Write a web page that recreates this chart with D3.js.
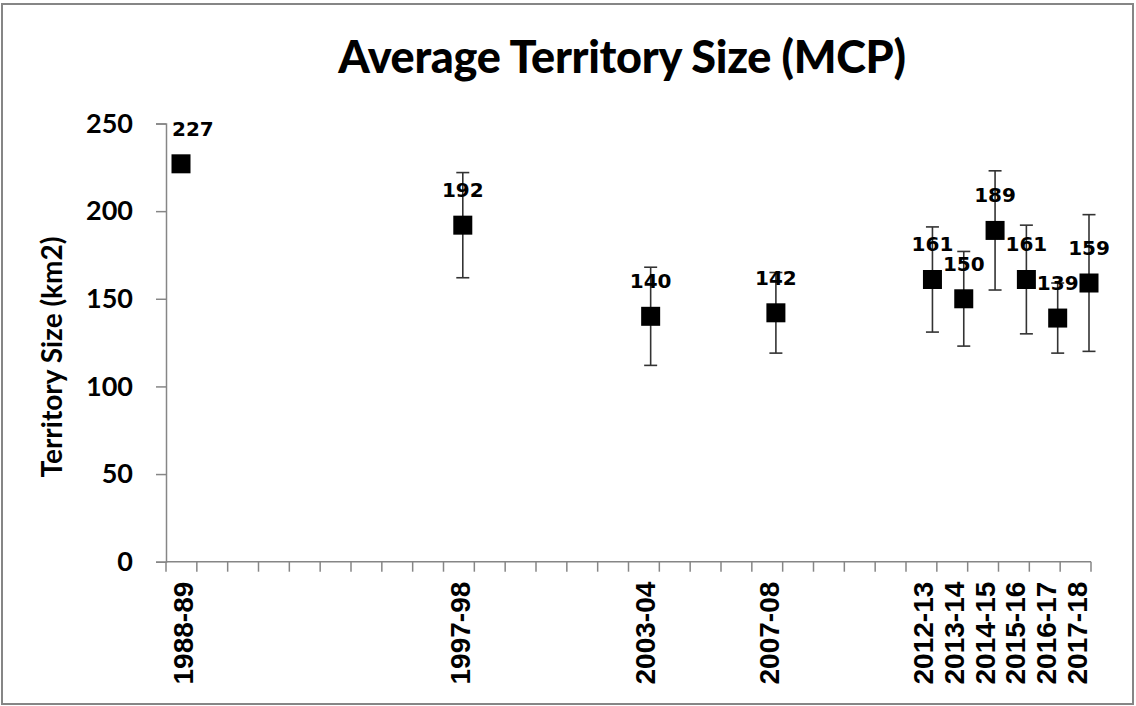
<!DOCTYPE html>
<html><head><meta charset="utf-8">
<script src="https://cdn.jsdelivr.net/npm/d3@7"></script>
<style>body{margin:0;background:#fff}svg{display:block}</style>
</head><body>
<svg id="c" width="1136" height="706"></svg>
<script>
// categories: every season on the axis (1988-89 .. 2017-18)
const seasons = d3.range(1988, 2018).map(y => y + "-" + String((y + 1) % 100).padStart(2, "0"));
const labelledSeasons = ["1988-89","1997-98","2003-04","2007-08","2012-13","2013-14","2014-15","2015-16","2016-17","2017-18"];
const means = [227, 192, 140, 142, 161, 150, 189, 161, 139, 159];
const errors = [null, 30, 28, 23, 30, 27, 34, 31, 20, 39];
const yTicks = [0, 50, 100, 150, 200, 250];
const title = "Average Territory Size (MCP)";
const yTitle = "Territory Size (km2)";

const svg = d3.select("#c");
const axisColor = "#868686";

// outer border
svg.append("rect").attr("x", 2).attr("y", 4).attr("width", 1131).attr("height", 700)
  .attr("fill", "none").attr("stroke", axisColor).attr("stroke-width", 2);

const plotLeft = 166, plotRight = 1091, plotTop = 123.5, plotBottom = 561.7;
const xBand = d3.scaleBand().domain(seasons).range([plotLeft, plotRight]);
const xMark = d3.scaleLinear().domain([0, seasons.length - 1]).range([181, 1089]);
const y = d3.scaleLinear().domain([0, 250]).range([plotBottom, plotTop]);

// title
svg.append("text").attr("x", 622).attr("y", 73).attr("text-anchor", "middle")
  .attr("font-family", "Lato").attr("font-weight", "900").attr("font-size", 45)
  .attr("letter-spacing", -0.3)
  .attr("fill", "#000").text(title);

// y axis
const yAxis = svg.append("g").attr("transform", `translate(${plotLeft},0)`)
  .call(d3.axisLeft(y).tickValues(yTicks).tickSize(10).tickPadding(23).tickFormat(d3.format("d")));
yAxis.select(".domain").attr("stroke", axisColor).attr("stroke-width", 1.5);
yAxis.selectAll(".tick line").attr("stroke", axisColor).attr("stroke-width", 1.5);
yAxis.selectAll(".tick text").attr("font-family", "Lato").attr("font-weight", "bold")
  .attr("font-size", 27).attr("fill", "#000");

// y title
svg.append("text").attr("transform", "translate(62,357) rotate(-90)").attr("text-anchor", "middle")
  .attr("font-family", "Lato").attr("font-weight", "bold").attr("font-size", 28)
  .attr("fill", "#000").text(yTitle);

// x axis
const xg = svg.append("g");
xg.append("line").attr("x1", plotLeft).attr("x2", plotRight).attr("y1", plotBottom).attr("y2", plotBottom)
  .attr("stroke", axisColor).attr("stroke-width", 1.5);
const boundaries = seasons.map(s => xBand(s)).concat([xBand(seasons[seasons.length - 1]) + xBand.bandwidth()]);
xg.selectAll("line.tk").data(boundaries).join("line").attr("class", "tk")
  .attr("x1", d => d).attr("x2", d => d).attr("y1", plotBottom).attr("y2", plotBottom + 10)
  .attr("stroke", axisColor).attr("stroke-width", 1.5);
xg.selectAll("text.xl").data(labelledSeasons).join("text").attr("class", "xl")
  .attr("transform", d => `translate(${xBand(d) + xBand.bandwidth() / 2 + 2},${plotBottom + 20}) rotate(-90)`)
  .attr("text-anchor", "end").attr("dominant-baseline", "central")
  .attr("font-family", "Liberation Sans").attr("font-weight", "bold").attr("font-size", 28)
  .attr("fill", "#000").text(d => d);

// data
const pts = labelledSeasons.map((s, i) => ({ s, v: means[i], e: errors[i], x: xMark(seasons.indexOf(s)) }));

// error bars
const eb = svg.append("g").attr("stroke", "#333").attr("stroke-width", 1.6);
pts.filter(d => d.e != null).forEach(d => {
  eb.append("line").attr("x1", d.x).attr("x2", d.x).attr("y1", y(d.v + d.e)).attr("y2", y(d.v - d.e));
  [d.v + d.e, d.v - d.e].forEach(v => eb.append("line").attr("x1", d.x - 6.5).attr("x2", d.x + 6.5)
    .attr("y1", y(v)).attr("y2", y(v)));
});

// markers
svg.selectAll("rect.m").data(pts).join("rect").attr("class", "m")
  .attr("x", d => d.x - 9.5).attr("y", d => y(d.v) - 9.5).attr("width", 19).attr("height", 19).attr("fill", "#000");

// data labels
const lbl = svg.selectAll("text.dl").data(pts).join("text").attr("class", "dl")
  .attr("y", d => y(d.v) - 28).attr("text-anchor", "middle")
  .attr("font-family", "DejaVu Sans").attr("font-weight", "bold").attr("font-size", 20)
  .attr("fill", "#000").text(d => d.v);
lbl.attr("x", function (d) {
  const w = this.getComputedTextLength();
  return Math.max(d.x, plotLeft + 6 + w / 2);
});
</script>
</body></html>
